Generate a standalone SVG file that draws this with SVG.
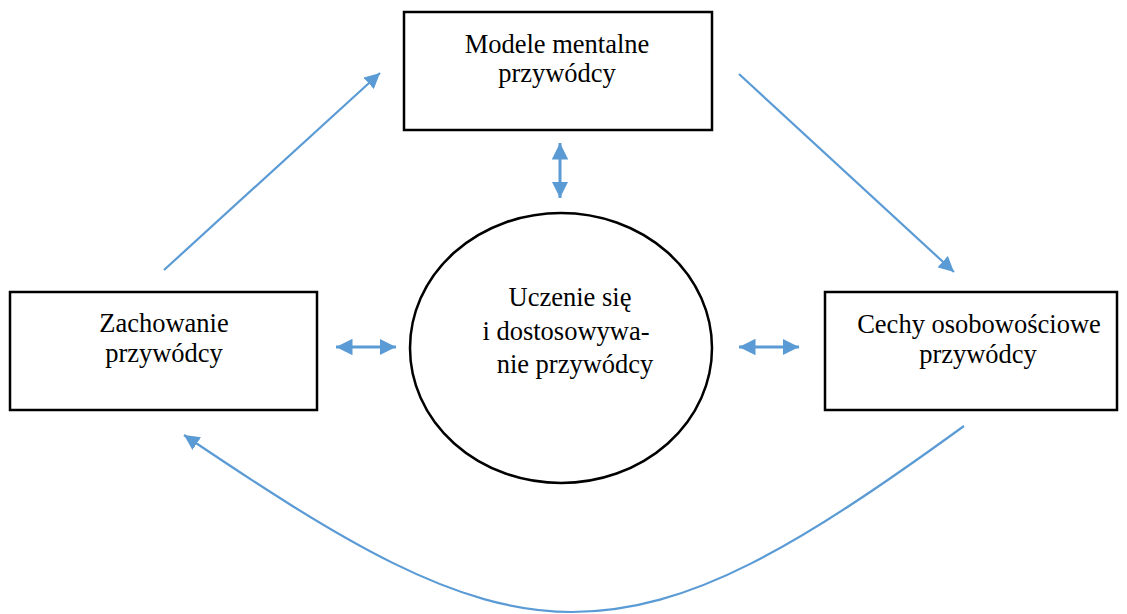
<svg xmlns="http://www.w3.org/2000/svg" width="1127" height="614" viewBox="0 0 1127 614">
<defs>
<style>
.box{fill:#fff;stroke:#000;stroke-width:2.5}
.t{font-family:"Liberation Serif","Times New Roman",serif;font-size:26.5px;fill:#000;text-anchor:middle}
.c{fill:none;stroke:#5B9BD5;stroke-width:2.2}
.d{fill:none;stroke:#5B9BD5;stroke-width:3}
</style>
<marker id="ah" viewBox="0 0 10 10" refX="10" refY="5" markerWidth="7" markerHeight="7" markerUnits="strokeWidth" orient="auto-start-reverse"><path d="M0,0 L10,5 L0,10 z" fill="#5B9BD5"/></marker>
<marker id="ah2" viewBox="0 0 10 10" refX="10" refY="5" markerWidth="5.5" markerHeight="5.5" markerUnits="strokeWidth" orient="auto-start-reverse"><path d="M0,0 L10,5 L0,10 z" fill="#5B9BD5"/></marker>
</defs>
<rect width="1127" height="614" fill="#fff"/>
<g id="node-top">
<rect class="box" x="404" y="12" width="308" height="118"/>
<text class="t" x="557" y="53">Modele mentalne</text>
<text class="t" x="557" y="82">przywódcy</text>
</g>
<g id="node-left">
<rect class="box" x="10" y="292" width="307" height="118"/>
<text class="t" x="164" y="332">Zachowanie</text>
<text class="t" x="164" y="362">przywódcy</text>
</g>
<g id="node-right">
<rect class="box" x="825" y="292" width="292" height="118"/>
<text class="t" x="979" y="333">Cechy osobowościowe</text>
<text class="t" x="978" y="363">przywódcy</text>
</g>
<g id="node-center">
<ellipse class="box" cx="561" cy="348" rx="151" ry="135"/>
<text class="t" x="570" y="306">Uczenie się</text>
<text class="t" x="566" y="340">i dostosowywa-</text>
<text class="t" x="575" y="373">nie przywódcy</text>
</g>
<g id="connectors">
<path class="c" d="M164,270 L380,73" marker-end="url(#ah)"/>
<path class="c" d="M739,74 L954,272" marker-end="url(#ah)"/>
<path class="c" d="M964,426 C800,545 690,612 572,612 C455,612 340,540 184,435" marker-end="url(#ah)"/>
<path class="d" d="M336,347 L396,347" marker-start="url(#ah2)" marker-end="url(#ah2)"/>
<path class="d" d="M739,347 L799,347" marker-start="url(#ah2)" marker-end="url(#ah2)"/>
<path class="d" d="M560,143 L560,198" marker-start="url(#ah2)" marker-end="url(#ah2)"/>
</g>
</svg>
